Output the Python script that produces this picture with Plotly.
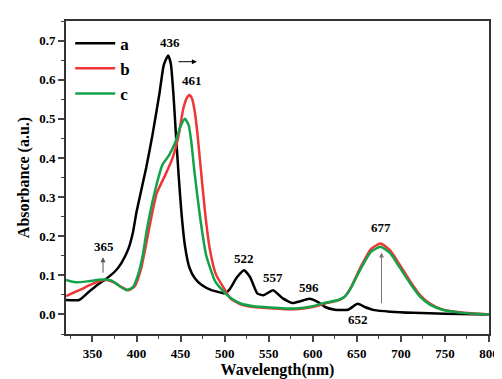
import plotly.graph_objects as go

# Series a (black)
wl_a = [320, 335, 346, 357, 365, 376, 383, 391, 396, 400, 411, 418, 426, 431, 436, 439, 442, 445, 448, 451,
        455, 460, 466, 474, 485, 492, 500, 505, 514, 522, 529, 537, 544, 555, 566, 577, 585, 596, 605, 614,
        625, 640, 651, 659, 670, 688, 714, 750, 800]
abs_a = [0.037, 0.037, 0.058, 0.078, 0.09, 0.111, 0.132, 0.169, 0.21, 0.262, 0.375, 0.457, 0.564, 0.638, 0.662,
         0.64, 0.56, 0.45, 0.35, 0.26, 0.175, 0.12, 0.093, 0.075, 0.062, 0.058, 0.054, 0.062, 0.095, 0.113,
         0.095, 0.054, 0.049, 0.062, 0.041, 0.029, 0.033, 0.04, 0.033, 0.019, 0.012, 0.012, 0.027, 0.019,
         0.011, 0.007, 0.004, 0.002, 0.0]

# Series b (red)
wl_b = [320, 335, 346, 357, 366, 376, 383, 391, 398, 405, 411, 417, 423, 433, 441, 448, 453, 457, 460, 463,
        466, 469, 472, 477.5, 483, 490, 500, 507, 518, 533, 551, 581, 600, 614, 629, 636, 644, 655, 666, 677,
        688, 699, 711, 722, 733, 747, 770, 800]
abs_b = [0.047, 0.062, 0.074, 0.085, 0.088, 0.08, 0.07, 0.062, 0.072, 0.115, 0.18, 0.25, 0.31, 0.358, 0.4,
         0.46, 0.525, 0.553, 0.561, 0.552, 0.52, 0.465, 0.395, 0.267, 0.169, 0.103, 0.064, 0.04, 0.026, 0.019,
         0.016, 0.013, 0.019, 0.028, 0.036, 0.045, 0.072, 0.124, 0.167, 0.181, 0.163, 0.126, 0.083, 0.049,
         0.028, 0.013, 0.005, 0.0]

# Series c (green)
wl_c = [320, 331, 346, 361, 372, 381, 389, 396, 402, 407, 412, 422, 429.5, 437, 444, 450, 455, 459, 462, 466,
        472, 479, 489, 500, 507, 518, 533, 551, 581, 600, 614, 629, 636, 642, 655, 666, 677, 688, 699, 711,
        722, 733, 747, 770, 800]
abs_c = [0.088, 0.082, 0.085, 0.089, 0.086, 0.072, 0.062, 0.07, 0.103, 0.15, 0.22, 0.325, 0.383, 0.407, 0.44,
         0.481, 0.5, 0.485, 0.445, 0.36, 0.251, 0.152, 0.086, 0.056, 0.042, 0.028, 0.021, 0.018, 0.015, 0.021,
         0.03, 0.037, 0.045, 0.062, 0.119, 0.16, 0.173, 0.156, 0.119, 0.078, 0.045, 0.025, 0.012, 0.004, 0.0]

series_names = ["a", "b", "c"]
series_colors = ["#000000", "#f03535", "#12a34a"]

# Peak labels (wavelength text, x, y)
peak_labels = ["436", "461", "522", "557", "596", "652", "365", "677"]
peak_x = [438, 463, 522, 555, 596, 651, 363, 678]
peak_y = [0.695, 0.597, 0.144, 0.095, 0.07, -0.012, 0.173, 0.222]

FONT = "Liberation Serif"

fig = go.Figure()
for wl, ab, name, col in zip([wl_a, wl_b, wl_c], [abs_a, abs_b, abs_c], series_names, series_colors):
    fig.add_trace(go.Scatter(x=wl, y=ab, mode="lines", name=name,
                             line=dict(color=col, width=2.5, shape="spline", smoothing=0.5)))

for t, x, y in zip(peak_labels, peak_x, peak_y):
    fig.add_annotation(x=x, y=y, text=t, showarrow=False,
                       font=dict(family=FONT, size=13, color="black", weight="bold"))

# arrows
fig.add_annotation(x=468.5, y=0.646, ax=446, ay=0.646, axref="x", ayref="y", xref="x", yref="y",
                   showarrow=True, arrowhead=2, arrowsize=1, arrowwidth=1, arrowcolor="black", text="")
fig.add_annotation(x=362, y=0.146, ax=362, ay=0.103, axref="x", ayref="y", xref="x", yref="y",
                   showarrow=True, arrowhead=2, arrowsize=1, arrowwidth=1, arrowcolor="#555", text="")
fig.add_annotation(x=678, y=0.158, ax=678, ay=0.025, axref="x", ayref="y", xref="x", yref="y",
                   showarrow=True, arrowhead=2, arrowsize=1, arrowwidth=1, arrowcolor="#777", text="")

fig.update_layout(
    width=502, height=379,
    margin=dict(l=58, r=11, t=11, b=44),
    plot_bgcolor="white", paper_bgcolor="white",
    font=dict(family=FONT, color="black"),
    showlegend=True,
    legend=dict(x=0.01, y=0.985, xanchor="left", yanchor="top", bgcolor="rgba(0,0,0,0)",
                font=dict(family=FONT, size=17, weight="bold"), itemwidth=40, tracegroupgap=0),
    xaxis=dict(range=[320, 800], dtick=50, tick0=350, ticks="outside", ticklen=6, tickwidth=1.5,
               showline=True, linecolor="#333", linewidth=2, mirror=True, showgrid=False, zeroline=False,
               tickfont=dict(family=FONT, size=13, weight="bold"),
               minor=dict(dtick=25, tick0=325, ticks="outside", ticklen=3, tickwidth=1.2, showgrid=False),
               title=dict(text="Wavelength(nm)", font=dict(family=FONT, size=16, weight="bold"), standoff=4)),
    yaxis=dict(range=[-0.05, 0.75], dtick=0.1, tick0=0, tickformat=".1f", ticks="outside", ticklen=6, tickwidth=1.5,
               showline=True, linecolor="#333", linewidth=2, mirror=True, showgrid=False, zeroline=False,
               tickfont=dict(family=FONT, size=13, weight="bold"),
               minor=dict(dtick=0.05, ticks="outside", ticklen=3, tickwidth=1.2, showgrid=False),
               title=dict(text="Absorbance (a.u.)", font=dict(family=FONT, size=16, weight="bold"), standoff=6)),
)

fig.write_html("out.html")
